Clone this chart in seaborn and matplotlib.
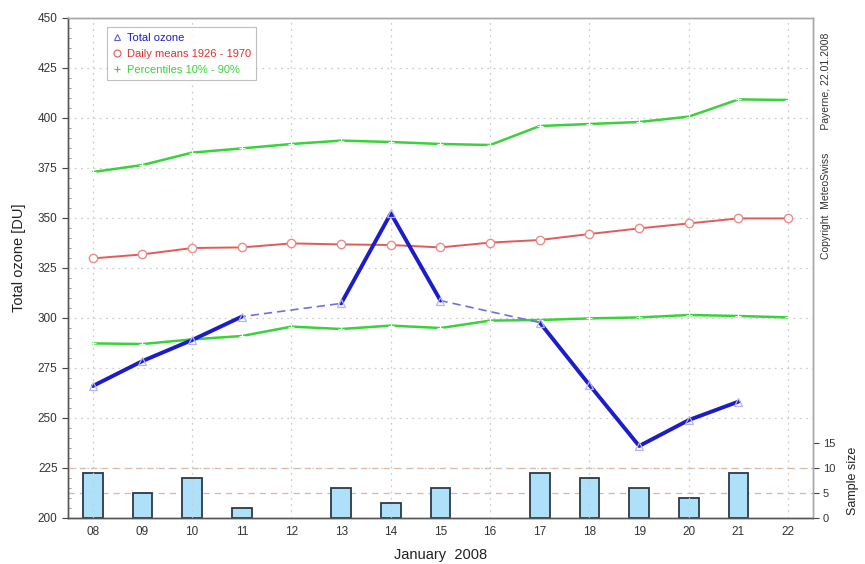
import numpy as np
import pandas as pd
import matplotlib
matplotlib.use("Agg")
import matplotlib.pyplot as plt
from matplotlib.lines import Line2D
import seaborn as sns

# Days of January 2008
days = [8, 9, 10, 11, 12, 13, 14, 15, 16, 17, 18, 19, 20, 21, 22]
day_labels = ["08", "09", "10", "11", "12", "13", "14", "15", "16", "17", "18", "19", "20", "21", "22"]

# Measured total ozone (NaN = no measurement)
total_ozone = [266, 278.5, 289, 300.7, np.nan, 307.3, 352.3, 308.7, np.nan,
               297.7, 266.5, 236, 249, 258.2, np.nan]

# Climatological daily means 1926 - 1970
daily_means = [329.8, 331.8, 335, 335.3, 337.3, 336.8, 336.5, 335.3, 337.7,
               339, 342, 344.8, 347.3, 349.8, 349.8]

# 10% and 90% percentiles
pct10 = [287.3, 287, 289.3, 291, 295.7, 294.5, 296.2, 295, 298.7,
         299, 299.8, 300.3, 301.5, 301, 300.3]
pct90 = [373, 376.5, 382.7, 384.8, 387, 388.7, 388, 387, 386.5,
         396, 397, 398, 400.7, 409.3, 409]

# Number of measurements per day
sample_size = [9, 5, 8, 2, 0, 6, 3, 6, 0, 9, 8, 6, 4, 9, 0]

BLUE = "#1c1cc8"
BLUE_DASH = "#7070e0"
RED = "#e25a5a"
GREEN = "#3ad23a"
BAR = "#aee0fa"
GRID = "#cdcdcd"

sns.set_theme(style="white")
plt.rcParams["font.family"] = ["Liberation Sans", "DejaVu Sans"]

fig = plt.figure(figsize=(8.65, 5.64), dpi=100)
ax = fig.add_axes([68 / 865, 46 / 564, 745 / 865, 500 / 564])
ax2 = ax.twinx()

# Sample size bars on the secondary axis
df_n = pd.DataFrame({"day": days, "n": sample_size})
sns.barplot(data=df_n[df_n["n"] > 0], x="day", y="n", native_scale=True,
            width=0.4, color=BAR, edgecolor="#2a3a48", linewidth=1.3,
            saturation=1, ax=ax2, zorder=2)
ax2.set_ylim(0, 100)
ax2.set_yticks([0, 5, 10, 15])
ax2.set_yticklabels(["0", "5", "10", "15"])
for lvl in [5, 10]:
    ax2.axhline(lvl, color="#d9b79f", lw=0.9, ls=(0, (5, 4)), zorder=1)
ax2.set_ylabel("Sample size", fontsize=9, color="#222222", labelpad=4)
ax2.yaxis.set_label_coords(1.045, 0.075)
ax2.tick_params(axis="y", labelsize=8, colors="#444444", length=4, width=0.8,
                direction="out", pad=3)
ax2.yaxis.set_tick_params(labelcolor="#333333")

# Ozone axis drawn above the bars
ax.set_zorder(ax2.get_zorder() + 1)
ax.patch.set_visible(False)

df = pd.DataFrame({"day": days, "ozone": total_ozone, "mean": daily_means,
                   "p10": pct10, "p90": pct90})

# Grid
for v in np.arange(225, 451, 25):
    ax.axhline(v, color=GRID, lw=0.9, ls=(0, (1.5, 3.5)), zorder=0)
for d in days[::2]:
    ax.axvline(d, color=GRID, lw=0.9, ls=(0, (1.5, 3.5)), zorder=0)

# Percentiles
sns.lineplot(data=df, x="day", y="p90", color=GREEN, lw=1.8, marker="+",
             markersize=4, markeredgewidth=0.8, ax=ax, zorder=3)
sns.lineplot(data=df, x="day", y="p10", color=GREEN, lw=1.8, marker="+",
             markersize=4, markeredgewidth=0.8, ax=ax, zorder=3)

# Daily means
sns.lineplot(data=df, x="day", y="mean", color=RED, lw=1.4, marker="o",
             markersize=6, markerfacecolor="white", markeredgecolor="#ee8a8a",
             markeredgewidth=1.0, ax=ax, zorder=4)

# Total ozone: dashed across missing days, solid between consecutive days
valid = df.dropna(subset=["ozone"]).copy()
sns.lineplot(data=valid, x="day", y="ozone", color=BLUE_DASH, lw=1.2,
             ls=(0, (5, 3)), ax=ax, zorder=5)
seg = df["ozone"].isna().cumsum()
valid["seg"] = seg[valid.index]
sns.lineplot(data=valid, x="day", y="ozone", units="seg", estimator=None,
             color=BLUE, lw=2.8, ax=ax, zorder=6)
sns.lineplot(data=valid, x="day", y="ozone", color="none", lw=0, marker="^",
             markersize=6, markerfacecolor="none", markeredgecolor="#b4b4f2",
             markeredgewidth=0.9, ax=ax, zorder=7)

ax.set_xlim(7.5, 22.5)
ax.set_ylim(200, 450)
ax.set_xticks(days)
ax.set_xticklabels(day_labels)
ax.set_yticks(np.arange(200, 451, 25))
ax.set_yticks(np.arange(200, 451, 5), minor=True)
ax.tick_params(axis="both", which="major", labelsize=8.5, colors="#444444",
               labelcolor="#333333", length=4, width=0.8, direction="out")
ax.tick_params(axis="y", which="minor", length=2, width=0.6, colors="#888888",
               direction="in")
ax.tick_params(axis="x", which="major", length=0, pad=6)
ax.set_xlabel("January  2008", fontsize=10.5, color="#222222", labelpad=7)
ax.set_ylabel("Total ozone [DU]", fontsize=10.5, color="#222222")
ax.yaxis.set_label_coords(-0.056, 0.52)

for a in (ax, ax2):
    for side in ["top", "right"]:
        a.spines[side].set_color("#a8a8a8")
        a.spines[side].set_linewidth(1.0)
    for side in ["left", "bottom"]:
        a.spines[side].set_color("#555555")
        a.spines[side].set_linewidth(1.0)

# Legend with marker-only handles
handles = [
    Line2D([], [], ls="none", marker="^", markersize=5, markerfacecolor="none",
           markeredgecolor="#6060d0", markeredgewidth=0.8),
    Line2D([], [], ls="none", marker="o", markersize=5, markerfacecolor="none",
           markeredgecolor=RED, markeredgewidth=0.8),
    Line2D([], [], ls="none", marker="+", markersize=4, markeredgecolor=GREEN,
           markeredgewidth=0.8),
]
labels = ["Total ozone", "Daily means 1926 - 1970", "Percentiles 10% - 90%"]
leg = ax.legend(handles, labels, loc="upper left", bbox_to_anchor=(0.052, 0.982),
                borderaxespad=0, fontsize=8, frameon=True, fancybox=False,
                borderpad=0.5, handlelength=0.8, handletextpad=0.5,
                labelspacing=0.55)
leg.get_frame().set_edgecolor("#b0b0b0")
leg.get_frame().set_linewidth(0.8)
for txt, c in zip(leg.get_texts(), [BLUE, "#e03030", GREEN]):
    txt.set_color(c)

fig.text(826 / 865, 1 - 146 / 564, "Copyright  MeteoSwiss        Payerne, 22.01.2008",
         rotation=90, fontsize=7.5, color="#333333", ha="center", va="center")

fig.savefig("out.png", dpi=100)
